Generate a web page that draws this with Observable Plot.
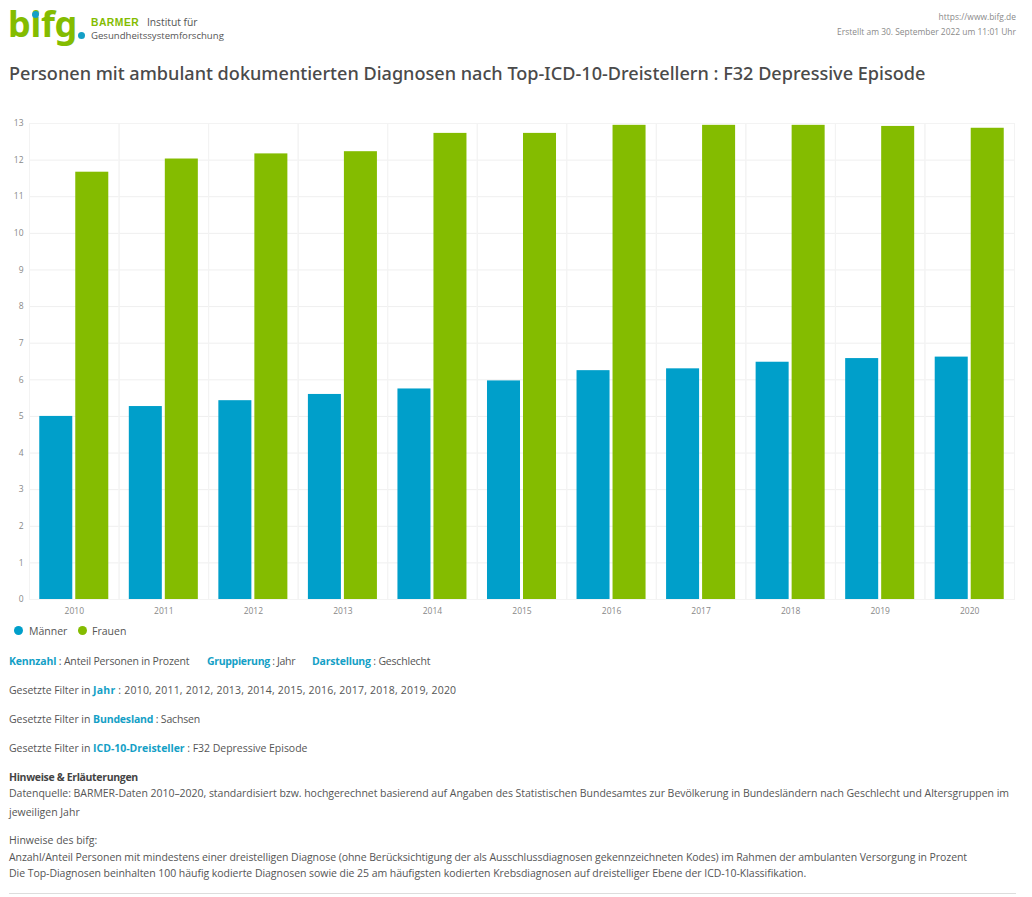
<!DOCTYPE html>
<html lang="de"><head><meta charset="utf-8">
<script src="https://cdn.jsdelivr.net/npm/d3@7"></script>
<script src="https://cdn.jsdelivr.net/npm/@observablehq/plot@0.6"></script>
<style>
html,body{margin:0;padding:0;background:#fff}
body{width:1032px;height:897px;position:relative;overflow:hidden;font-family:"Open Sans",sans-serif;color:#555;font-size:10.5px}
.a{position:absolute;white-space:nowrap}
b.k{color:#149fc6;font-weight:700}
#chart{position:absolute;left:0;top:105px}
#chart svg{display:block}
.dot{position:absolute;width:9px;height:9px;border-radius:50%}
.p{letter-spacing:-.03px}
</style></head><body>
<div class="a" style="left:8px;top:4px;font:700 36px/40px 'Noto Sans',sans-serif;color:#84bc00;letter-spacing:-.3px">bifg</div>
<div class="a" style="left:32px;top:11px;width:7px;height:7px;border-radius:50%;background:#149fc6"></div>
<div class="a" style="left:78px;top:32px;width:7px;height:7px;border-radius:50%;background:#149fc6"></div>
<div class="a" style="left:91px;top:16px;font-size:10.3px;line-height:13px;color:#555"><span style="font-weight:700;color:#84bc00;font-family:'Liberation Sans';letter-spacing:.5px;margin-right:5px">BARMER</span> Institut für</div>
<div class="a" style="left:91px;top:29px;font-size:9.6px;line-height:13px;color:#555">Gesundheitssystemforschung</div>
<div class="a" style="right:16px;top:10px;text-align:right;font-size:8.45px;line-height:14.5px;color:#8a8a8a">https://www.bifg.de<br>Erstellt am 30. September 2022 um 11:01 Uhr</div>
<div class="a" style="left:9px;top:60px;font:500 18.1px/26px 'Noto Sans',sans-serif;color:#4a4a4a" id="title">Personen mit ambulant dokumentierten Diagnosen nach Top-ICD-10-Dreistellern : F32 Depressive Episode</div>
<div id="chart"></div>
<span class="dot" style="left:14px;top:626px;background:#009fca"></span>
<div class="a" style="left:29px;top:624px;line-height:14px">Männer</div>
<span class="dot" style="left:78px;top:626px;background:#84bc00"></span>
<div class="a" style="left:92px;top:624px;line-height:14px">Frauen</div>
<div class="a" style="left:9px;top:654px;letter-spacing:-.17px"><b class="k">Kennzahl</b> : Anteil Personen in Prozent</div>
<div class="a" style="left:207px;top:654px;letter-spacing:-.33px"><b class="k">Gruppierung</b> : Jahr</div>
<div class="a" style="left:312px;top:654px;letter-spacing:-.2px"><b class="k">Darstellung</b> : Geschlecht</div>
<div class="a" style="left:9px;top:683px;letter-spacing:.21px"><span class="p">Gesetzte Filter in </span><b class="k">Jahr</b> : 2010, 2011, 2012, 2013, 2014, 2015, 2016, 2017, 2018, 2019, 2020</div>
<div class="a" style="left:9px;top:712px;letter-spacing:-.19px"><span class="p">Gesetzte Filter in </span><b class="k">Bundesland</b> : Sachsen</div>
<div class="a" style="left:9px;top:741px;letter-spacing:-.03px">Gesetzte Filter in <b class="k">ICD-10-Dreisteller</b> : F32 Depressive Episode</div>
<div class="a" style="left:9px;top:770px;letter-spacing:-.33px"><b style="color:#444">Hinweise &amp; Erläuterungen</b></div>
<div class="a" style="left:9px;top:786px;letter-spacing:-.03px">Datenquelle: BARMER-Daten 2010–2020, standardisiert bzw. hochgerechnet basierend auf Angaben des Statistischen Bundesamtes zur Bevölkerung in Bundesländern nach Geschlecht und Altersgruppen im</div>
<div class="a" style="left:9px;top:805px">jeweiligen Jahr</div>
<div class="a" style="left:9px;top:833px">Hinweise des bifg:</div>
<div class="a" style="left:9px;top:850px;letter-spacing:-.07px">Anzahl/Anteil Personen mit mindestens einer dreistelligen Diagnose (ohne Berücksichtigung der als Ausschlussdiagnosen gekennzeichneten Kodes) im Rahmen der ambulanten Versorgung in Prozent</div>
<div class="a" style="left:9px;top:866px;letter-spacing:-.045px">Die Top-Diagnosen beinhalten 100 häufig kodierte Diagnosen sowie die 25 am häufigsten kodierten Krebsdiagnosen auf dreistelliger Ebene der ICD-10-Klassifikation.</div>
<div class="a" style="left:9px;top:893px;width:1007px;height:1px;background:#ddd"></div>
<script>
const years = [2010, 2011, 2012, 2013, 2014, 2015, 2016, 2017, 2018, 2019, 2020];
const maenner = [5.0, 5.27, 5.43, 5.6, 5.75, 5.97, 6.25, 6.3, 6.48, 6.58, 6.62];
const frauen = [11.67, 12.03, 12.17, 12.23, 12.73, 12.73, 12.95, 12.95, 12.95, 12.92, 12.87];
const seriesNames = ["Männer", "Frauen"];
const seriesColors = ["#009fca", "#84bc00"];
const yTicks = d3.range(0, 14);
const rows = years.flatMap((year, i) => [
  {year, series: seriesNames[0], value: maenner[i]},
  {year, series: seriesNames[1], value: frauen[i]}
]);
const plot = Plot.plot({
  width: 1032, height: 515,
  marginTop: 18, marginBottom: 21, marginLeft: 29, marginRight: 18,
  style: {fontFamily: "'Open Sans',sans-serif", fontSize: "8.5px", color: "#888", background: "transparent"},
  fx: {domain: years, padding: 0, round: false, label: null, tickSize: 0, tickPadding: 8, tickFormat: d3.format("d")},
  x: {domain: seriesNames, round: false, paddingInner: 0.083, paddingOuter: 0.285, axis: null},
  y: {domain: [0, 13], ticks: yTicks, tickFormat: d3.format("d"), label: null, tickSize: 0, tickPadding: 6},
  color: {domain: seriesNames, range: seriesColors},
  marks: [
    Plot.gridY(yTicks, {stroke: "#efefef", strokeOpacity: 1}),
    Plot.frame({stroke: "#f3f3f3"}),
    Plot.barY(rows, {fx: "year", x: "series", y: "value", fill: "series"})
  ]
});
document.getElementById("chart").append(plot);
</script>
</body></html>
